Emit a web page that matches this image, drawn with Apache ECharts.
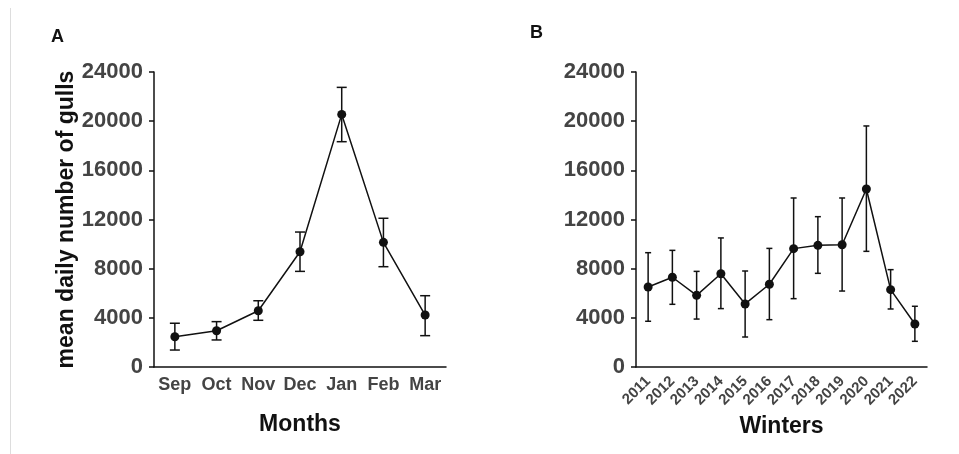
<!DOCTYPE html>
<html>
<head>
<meta charset="utf-8">
<script src="https://cdn.jsdelivr.net/npm/echarts@6/dist/echarts.min.js"></script>
<style>
  html, body { margin: 0; padding: 0; background: #fff; }
  #chart { width: 959px; height: 454px; }
</style>
</head>
<body>
<div id="chart"></div>
<script>
// panel A: monthly means with error bars
const months = ['Sep', 'Oct', 'Nov', 'Dec', 'Jan', 'Feb', 'Mar']
const monthMean = [2460, 2950, 4580, 9380, 20550, 10140, 4230]
const monthLow = [1380, 2200, 3800, 7780, 18330, 8160, 2550]
const monthHigh = [3560, 3690, 5390, 10980, 22750, 12100, 5800]

// panel B: per winter
const winters = ['2011', '2012', '2013', '2014', '2015', '2016', '2017', '2018', '2019', '2020', '2021', '2022']
const winterMean = [6510, 7300, 5830, 7590, 5130, 6730, 9630, 9900, 9950, 14480, 6290, 3500]
const winterLow = [3720, 5100, 3900, 4750, 2440, 3850, 5560, 7620, 6180, 9410, 4720, 2090]
const winterHigh = [9300, 9490, 7780, 10500, 7810, 9650, 13750, 12230, 13750, 19610, 7920, 4940]

const yTicks = [0, 4000, 8000, 12000, 16000, 20000, 24000]

const FONT = '"Liberation Sans", Arial, sans-serif'
const INK = '#111'
const TICK_GREY = '#444'

const chart = echarts.init(document.getElementById('chart'))

const errorBar = (capHalf) => (params, api) => {
  const i = api.value(0)
  const top = api.coord([i, api.value(2)])
  const bot = api.coord([i, api.value(1)])
  const style = { stroke: INK, lineWidth: 1.5 }
  return {
    type: 'group',
    children: [
      { type: 'line', shape: { x1: top[0], y1: top[1], x2: bot[0], y2: bot[1] }, style },
      { type: 'line', shape: { x1: top[0] - capHalf, y1: top[1], x2: top[0] + capHalf, y2: top[1] }, style },
      { type: 'line', shape: { x1: bot[0] - capHalf, y1: bot[1], x2: bot[0] + capHalf, y2: bot[1] }, style },
    ],
  }
}

const yAxis = (gridIndex, name) => ({
  gridIndex,
  type: 'value',
  min: yTicks[0],
  max: yTicks[yTicks.length - 1],
  interval: yTicks[1] - yTicks[0],
  name,
  nameLocation: 'middle',
  nameGap: 76,
  nameTextStyle: { fontFamily: FONT, fontWeight: 'bold', fontSize: 23, color: INK },
  axisLine: { show: true, lineStyle: { color: INK, width: 1.5 } },
  axisTick: { show: true, length: 5, lineStyle: { color: INK, width: 1.5 } },
  axisLabel: {
    fontFamily: FONT, fontWeight: 'bold', fontSize: 22, color: TICK_GREY, margin: 11,
    formatter: (v) => String(v),
  },
  splitLine: { show: false },
})

const xAxis = (gridIndex, data, name, labelExtra) => ({
  gridIndex,
  type: 'category',
  data,
  name,
  nameLocation: 'middle',
  nameGap: 46,
  nameTextStyle: { fontFamily: FONT, fontWeight: 'bold', fontSize: 23, color: INK },
  axisLine: { lineStyle: { color: INK, width: 1.5 } },
  axisTick: { alignWithLabel: true, length: 5, lineStyle: { color: INK, width: 1.5 } },
  axisLabel: Object.assign(
    { fontFamily: FONT, fontWeight: 'bold', color: TICK_GREY, interval: 0 },
    labelExtra
  ),
  splitLine: { show: false },
})

const lineSeries = (idx, data) => ({
  type: 'line',
  xAxisIndex: idx,
  yAxisIndex: idx,
  data,
  symbol: 'circle',
  symbolSize: 9,
  itemStyle: { color: INK },
  lineStyle: { color: INK, width: 1.5 },
  z: 3,
})

chart.setOption({
  animation: false,
  grid: [
    { left: 154, top: 72, width: 292, height: 295 },
    { left: 636, top: 72, width: 291, height: 295 },
  ],
  xAxis: [
    xAxis(0, months, 'Months', { fontSize: 18, margin: 9 }),
    xAxis(1, winters, 'Winters', { fontSize: 15, rotate: 45, margin: 12 }),
  ],
  yAxis: [yAxis(0, 'mean daily number of gulls'), yAxis(1, '')],
  series: [
    {
      type: 'custom',
      xAxisIndex: 0,
      yAxisIndex: 0,
      renderItem: errorBar(5),
      encode: { x: 0, y: [1, 2] },
      data: months.map((m, i) => [i, monthLow[i], monthHigh[i]]),
      z: 2,
    },
    lineSeries(0, monthMean),
    {
      type: 'custom',
      xAxisIndex: 1,
      yAxisIndex: 1,
      renderItem: errorBar(3),
      encode: { x: 0, y: [1, 2] },
      data: winters.map((w, i) => [i, winterLow[i], winterHigh[i]]),
      z: 2,
    },
    lineSeries(1, winterMean),
  ],
  graphic: [
    { type: 'line', shape: { x1: 10.5, y1: 8, x2: 10.5, y2: 454 }, style: { stroke: '#ddd', lineWidth: 1 } },
    { type: 'text', left: 51, top: 28, style: { text: 'A', font: 'bold 18px ' + FONT, fill: INK } },
    { type: 'text', left: 530, top: 24, style: { text: 'B', font: 'bold 18px ' + FONT, fill: INK } },
  ],
})
</script>
</body>
</html>
